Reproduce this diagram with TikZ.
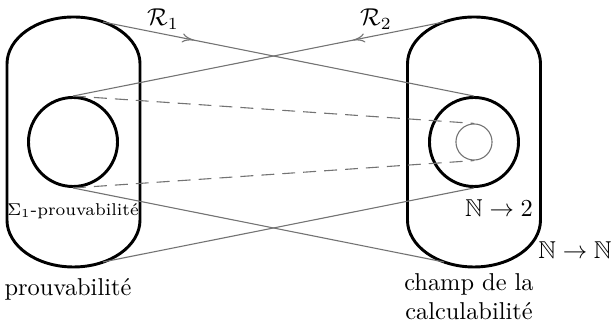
\documentclass[tikz,border=0pt]{standalone}
\usepackage{amssymb}
\usetikzlibrary{arrows.meta,decorations.markings}
\tikzset{
  bigline/.style={line width=1.2pt,black},
  thin gray/.style={draw=black!55,line width=0.45pt},
  ring/.style={circle,draw,bigline,inner sep=0pt,minimum size=36.5pt},
  smallring/.style={circle,thin gray,inner sep=0pt,minimum size=14.8pt},
  dashline/.style={thin gray,dash pattern=on 5.3pt off 3.3pt},
  rarrow/.style={thin gray,postaction={decorate},decoration={markings,
    mark=at position 0.245 with {\arrow[black!55]{To[length=4.8pt,width=3.8pt]}}}},
  lbl/.style={inner sep=0pt}
}
\begin{document}
\begin{tikzpicture}[x=0.41pt,y=0.41pt]
\useasboundingbox (0,0) rectangle (611,326);
% stadiums
\draw[bigline] (7,262) arc[start angle=180,end angle=0,x radius=27.27pt,y radius=19.27pt]
  -- (140,106) arc[start angle=0,end angle=-180,x radius=27.27pt,y radius=19.27pt] -- cycle;
\draw[bigline] (407.5,262) arc[start angle=180,end angle=0,x radius=27.27pt,y radius=19.27pt]
  -- (540.5,106) arc[start angle=0,end angle=-180,x radius=27.27pt,y radius=19.27pt] -- cycle;
% contact points on the stadiums
\coordinate (lt) at (103,304);
\coordinate (lb) at (103,64);
\coordinate (rt) at (444,304);
\coordinate (rb) at (444,64);
% circles
\node[ring] (cl) at (73,184) {};
\node[ring] (cr) at (474,184) {};
\node[smallring] (cs) at (474,184) {};
% connectors
\draw[rarrow] (lt) -- (cr.north);
\draw[rarrow] (rt) -- (cl.north);
\draw[thin gray] (cl.south) -- (rb);
\draw[thin gray] (cr.south) -- (lb);
\draw[dashline] (cl.north) -- (cs.north);
\draw[dashline] (cl.south) -- (cs.south);
% labels
\node[lbl] (r1) at (163,307) {$\mathcal{R}_1$};
\node[lbl] (r2) at (376,307) {$\mathcal{R}_2$};
\node[lbl] (sig) at (73,115) {\scriptsize $\Sigma_1$-prouvabilit\'e};
\node[lbl] (prouv) at (68,37) {prouvabilit\'e};
\node[lbl,align=center] (champ) at (469,29) {champ de la\\calculabilit\'e};
\node[lbl] (n2) at (499,118) {$\mathbb{N}\to 2$};
\node[lbl] (nn) at (575,76) {$\mathbb{N}\to\mathbb{N}$};
\end{tikzpicture}
\end{document}
